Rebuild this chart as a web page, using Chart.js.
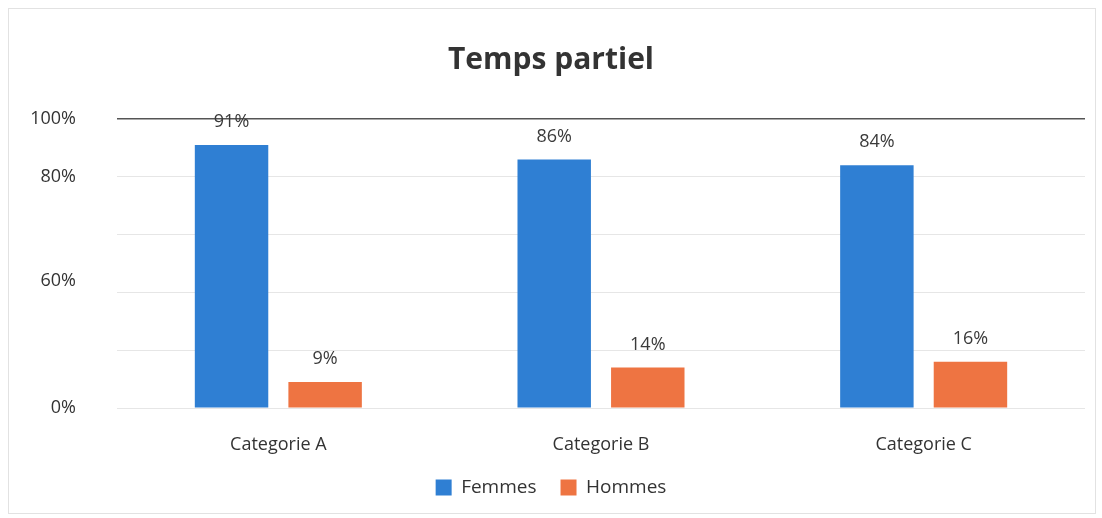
<!DOCTYPE html>
<html>
<head>
<meta charset="utf-8">
<script src="https://cdn.jsdelivr.net/npm/chart.js@4.4.1/dist/chart.umd.min.js"></script>
<style>
  html, body { margin: 0; padding: 0; background: #fff; }
  #wrap { position: relative; width: 1102px; height: 518px; }
  #frame { position: absolute; left: 8px; top: 8px; right: 6px; bottom: 4px; border: 1px solid #e2e2e2; pointer-events: none; }
</style>
</head>
<body>
<div id="wrap">
  <canvas id="c" width="1102" height="518"></canvas>
  <div id="frame"></div>
</div>
<script>
const categories = ['Categorie A', 'Categorie B', 'Categorie C'];
const femmes = [91, 86, 84];
const hommes = [9, 14, 16];
const seriesNames = ['Femmes', 'Hommes'];
const yTickValues = [0, 44, 80, 100];
const yTickLabels = ['0%', '60%', '80%', '100%'];

const valueLabels = {
  id: 'valueLabels',
  afterDatasetsDraw(chart) {
    const ctx = chart.ctx;
    ctx.save();
    ctx.font = '18px "Open Sans"';
    ctx.fillStyle = '#3a3a3a';
    ctx.textAlign = 'center';
    ctx.textBaseline = 'middle';
    chart.data.datasets.forEach((ds, i) => {
      const meta = chart.getDatasetMeta(i);
      meta.data.forEach((bar, j) => {
        ctx.fillText(ds.data[j] + '%', bar.x, bar.y - 23);
      });
    });
    ctx.restore();
  }
};

new Chart(document.getElementById('c'), {
  type: 'bar',
  data: {
    labels: categories,
    datasets: [
      { label: seriesNames[0], data: femmes, backgroundColor: '#2f7fd3', yAxisID: 'y', categoryPercentage: 0.58, barPercentage: 0.785 },
      { label: seriesNames[1], data: hommes, backgroundColor: '#ee7442', yAxisID: 'y', categoryPercentage: 0.58, barPercentage: 0.785 }
    ]
  },
  options: {
    responsive: false,
    animation: false,
    layout: { padding: { left: 17, right: 17, top: 0, bottom: 11 } },
    plugins: {
      title: {
        display: true,
        text: 'Temps partiel',
        color: '#333',
        font: { family: '"Open Sans"', size: 30, weight: 'bold' },
        padding: { top: 42, bottom: 41 }
      },
      legend: {
        position: 'bottom',
        labels: {
          color: '#333',
          font: { family: '"Open Sans"', size: 19 },
          boxWidth: 16, boxHeight: 16,
          padding: 24
        }
      },
      tooltip: { enabled: false }
    },
    scales: {
      x: {
        grid: { display: false },
        border: { display: false },
        ticks: { color: '#333', font: { family: '"Open Sans"', size: 18 }, padding: 18 },
        afterFit(axis) { axis.height = 46; }
      },
      y: {
        min: 0, max: 100,
        ticks: { display: false, stepSize: 20 },
        border: { display: false },
        grid: {
          color: (c) => c.tick && c.tick.value === 100 ? '#555' : '#e6e6e6',
          lineWidth: (c) => c.tick && c.tick.value === 100 ? 1.5 : 1,
          drawTicks: false
        },
        afterFit(axis) { axis.width = 0; }
      },
      yl: {
        position: 'left',
        min: 0, max: 100,
        grid: { display: false, drawTicks: false },
        border: { display: false },
        afterBuildTicks(axis) { axis.ticks = yTickValues.map(v => ({ value: v })); },
        ticks: {
          color: '#333',
          font: { family: '"Open Sans"', size: 18 },
          padding: 41,
          callback: (v) => yTickLabels[yTickValues.indexOf(v)]
        },
        afterFit(axis) { axis.width = 100; }
      }
    }
  },
  plugins: [valueLabels]
});
</script>
</body>
</html>
